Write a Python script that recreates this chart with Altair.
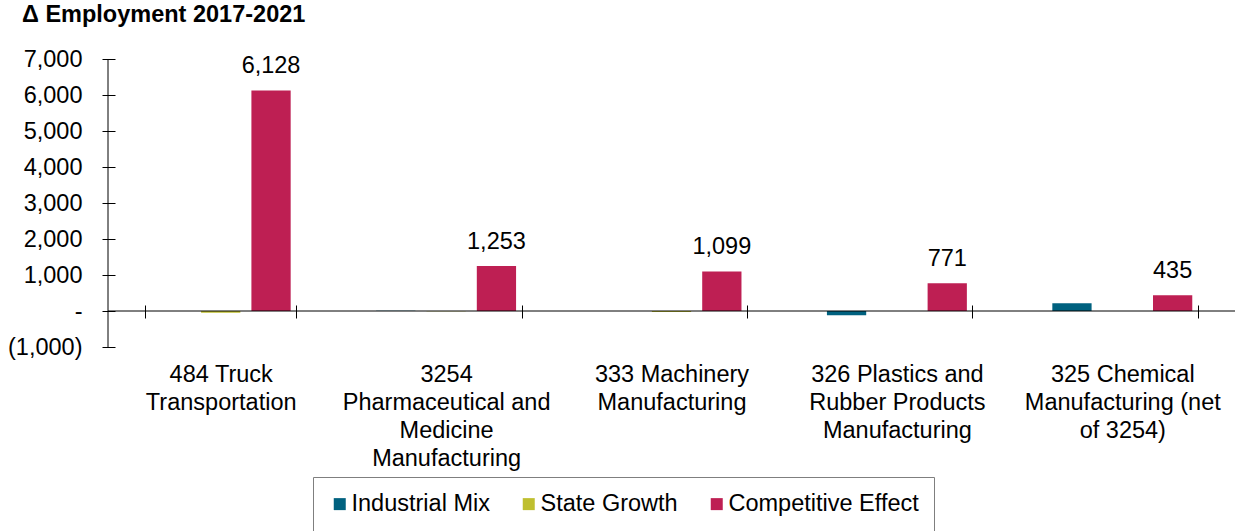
import altair as alt
import pandas as pd

# Shift-share components of employment change, 2017-2021
categories = [
    "484 Truck|Transportation",
    "3254|Pharmaceutical and|Medicine|Manufacturing",
    "333 Machinery|Manufacturing",
    "326 Plastics and|Rubber Products|Manufacturing",
    "325 Chemical|Manufacturing (net|of 3254)",
]
series = ["Industrial Mix", "State Growth", "Competitive Effect"]
industrial_mix = [0, 5, 0, -120, 215]
state_growth = [-50, -5, -30, 0, 0]
competitive_effect = [6128, 1253, 1099, 771, 435]
colors = ["#00617F", "#BFBF2F", "#BE1F53"]
y_ticks = [-1000, 0, 1000, 2000, 3000, 4000, 5000, 6000, 7000]

rows = []
for name, values in zip(series, [industrial_mix, state_growth, competitive_effect]):
    for cat, v in zip(categories, values):
        rows.append({"industry": cat, "component": name, "change": v})
df = pd.DataFrame(rows)

FONT = "Liberation Sans"
FS = 23.5
W, H = 1127, 288

x_enc = alt.X(
    "industry:N",
    sort=categories,
    scale=alt.Scale(paddingInner=0.33, paddingOuter=0.165),
    axis=alt.Axis(
        title=None,
        orient="bottom",
        offset=-42,
        domain=False,
        ticks=True,
        tickBand="extent",
        tickSize=13,
        tickColor="black",
        tickWidth=1,
        labelAngle=0,
        labelAlign="center",
        labelBaseline="top",
        labelPadding=44,
        labelFont=FONT,
        labelFontSize=FS,
        labelColor="black",
        labelLineHeight=28,
        labelLimit=400,
        labelExpr="split(datum.label, '|')",
    ),
)
x_off = alt.XOffset(
    "component:N",
    sort=series,
    scale=alt.Scale(paddingInner=0.22, paddingOuter=0.11),
)
y_enc = alt.Y(
    "change:Q",
    scale=alt.Scale(domain=[-1000, 7000], nice=False, zero=False),
    axis=alt.Axis(
        title=None,
        values=y_ticks,
        grid=False,
        domain=False,
        tickSize=13,
        tickColor="black",
        tickWidth=1,
        offset=-7,
        labelPadding=20,
        labelFont=FONT,
        labelFontSize=FS,
        labelColor="black",
        labelExpr="datum.value == 0 ? '-' : (datum.value < 0 ? '(' + format(-datum.value, ',') + ')' : format(datum.value, ','))",
    ),
)

base = alt.Chart(df)

bars = base.mark_bar().encode(
    x=x_enc,
    xOffset=x_off,
    y=y_enc,
    color=alt.Color(
        "component:N",
        sort=series,
        scale=alt.Scale(domain=series, range=colors),
        legend=alt.Legend(
            title=None,
            orient="none",
            legendX=205,
            legendY=418,
            direction="horizontal",
            symbolType="square",
            symbolSize=144,
            symbolStrokeWidth=0,
            labelFont=FONT,
            labelFontSize=FS,
            labelColor="black",
            labelOffset=0,
            labelLimit=400,
            columnPadding=27,
            padding=15,
            strokeColor="#7F7F7F",
            fillColor="white",
        ),
    ),
)

labels = base.transform_filter(
    alt.datum.component == "Competitive Effect"
).mark_text(
    baseline="alphabetic", dy=-17, font=FONT, fontSize=FS, color="black"
).encode(
    x=x_enc,
    xOffset=x_off,
    y=y_enc,
    text=alt.Text("change:Q", format=","),
)

zero_line = alt.Chart(pd.DataFrame({"change": [0]})).mark_rule(
    color="black", strokeWidth=1
).encode(y=y_enc)

y_line = alt.Chart(pd.DataFrame({"change": [0]})).mark_rule(
    color="black", strokeWidth=1
).encode(x=alt.value(0), y=alt.value(0), y2=alt.value(H))

chart = alt.layer(bars, labels, zero_line, y_line).properties(
    width=W,
    height=H,
    autosize=alt.AutoSizeParams(type="none"),
    padding={"left": 108, "top": 59, "right": 4, "bottom": 184},
    title=alt.TitleParams(
        "Δ Employment 2017-2021",
        anchor="start",
        frame="group",
        dx=-86,
        offset=2,
        baseline="alphabetic",
        font=FONT,
        fontSize=FS,
        fontWeight="bold",
        color="black",
    ),
).configure_view(stroke="transparent")

chart.save("out.html", embed_options={"renderer": "svg", "actions": False})
